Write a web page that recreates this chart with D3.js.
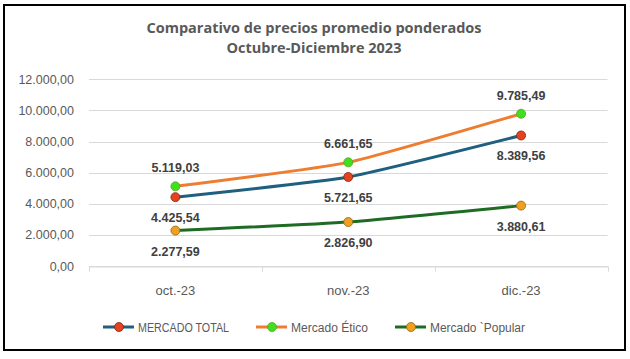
<!DOCTYPE html>
<html lang="es">
<head>
<meta charset="utf-8">
<title>Comparativo de precios promedio ponderados</title>
<script src="https://d3js.org/d3.v7.min.js"></script>
<style>
  body { margin: 0; background: #fff; }
  text { font-family: "Liberation Sans", Arial, sans-serif; }
</style>
</head>
<body>
<script>
// categories and series
var months = ["oct.-23", "nov.-23", "dic.-23"];
var mercadoTotal = [4425.54, 5721.65, 8389.56];
var mercadoEtico = [5119.03, 6661.65, 9785.49];
var mercadoPopular = [2277.59, 2826.90, 3880.61];
var yTicks = [0, 2000, 4000, 6000, 8000, 10000, 12000];
var seriesNames = ["MERCADO TOTAL", "Mercado Ético", "Mercado `Popular"];

var w = 630, h = 359;

var series = [
  { name: seriesNames[0], values: mercadoTotal, line: "#1f5f80", dot: "#e8411f", dotStroke: "#7a2a12", labelPos: "below" },
  { name: seriesNames[1], values: mercadoEtico, line: "#ed7d31", dot: "#3fe01c", dotStroke: "#5aa02a", labelPos: "above" },
  { name: seriesNames[2], values: mercadoPopular, line: "#1e6b24", dot: "#f0a020", dotStroke: "#8a6a10", labelPos: "below" }
];

var fmt = d3.formatLocale({ decimal: ",", thousands: ".", grouping: [3], currency: ["", ""] }).format(",.2f");

var svg = d3.select("body").append("svg")
  .attr("width", w)
  .attr("height", h);

// outer frame
svg.append("rect")
  .attr("x", 4).attr("y", 5)
  .attr("width", 621).attr("height", 345)
  .attr("fill", "#fff")
  .attr("stroke", "#000")
  .attr("stroke-width", 2);

// title
var title = svg.append("text")
  .attr("x", 314)
  .attr("text-anchor", "middle")
  .attr("fill", "#595959")
  .style("font-family", "'Open Sans', sans-serif")
  .style("font-weight", "bold")
  .style("font-size", "14.5px");
title.append("tspan").attr("x", 314).attr("y", 33).text("Comparativo de precios promedio ponderados");
title.append("tspan").attr("x", 314).attr("y", 53).text("Octubre-Diciembre 2023");

var x = d3.scaleBand()
  .domain(months)
  .range([89, 607.5]);

var y = d3.scaleLinear()
  .domain([0, 12000])
  .range([266, 79.3]);

// gridlines
svg.append("g")
  .selectAll("line")
  .data(yTicks)
  .join("line")
  .attr("x1", 89).attr("x2", 607.5)
  .attr("y1", function(d) { return Math.round(y(d)) + 0.5; })
  .attr("y2", function(d) { return Math.round(y(d)) + 0.5; })
  .attr("stroke", "#d9d9d9")
  .attr("stroke-width", 1);

// y axis labels
var yAxis = d3.axisLeft(y).tickValues(yTicks).tickSize(0).tickPadding(0).tickFormat(fmt);
svg.append("g")
  .attr("transform", "translate(74,0)")
  .call(yAxis)
  .call(function(g) { g.select(".domain").remove(); })
  .selectAll("text")
  .attr("fill", "#595959")
  .style("font-size", "12.5px")
  .style("font-family", "'Liberation Sans', Arial, sans-serif");

// x axis
var xAxis = d3.axisBottom(x).tickSize(0).tickPadding(0);
var gx = svg.append("g")
  .attr("transform", "translate(0," + (Math.round(y(0)) + 0.5) + ")");
gx.call(xAxis);
gx.select(".domain").attr("stroke", "#d9d9d9");
gx.selectAll(".tick line").remove();
gx.selectAll(".tick text")
  .attr("dy", 0)
  .attr("y", 28)
  .attr("fill", "#595959")
  .style("font-size", "13px")
  .style("font-family", "'Liberation Sans', Arial, sans-serif");
// boundary tick marks between categories
var bounds = months.map(function(m) { return x(m); }).concat([x.range()[1]]);
gx.selectAll(".bound")
  .data(bounds)
  .join("line")
  .attr("class", "bound")
  .attr("x1", function(d) { return Math.round(d) + 0.5; })
  .attr("x2", function(d) { return Math.round(d) + 0.5; })
  .attr("y1", 0).attr("y2", 5)
  .attr("stroke", "#d9d9d9");

var cx = function(i) { return x(months[i]) + x.bandwidth() / 2; };

// Excel-style smoothing, kept gentle
var line = d3.line()
  .x(function(d, i) { return cx(i); })
  .y(function(d) { return y(d); })
  .curve(d3.curveCardinal.tension(0.55));

var sg = svg.selectAll(".series")
  .data(series)
  .join("g")
  .attr("class", "series");

sg.append("path")
  .attr("d", function(s) { return line(s.values); })
  .attr("fill", "none")
  .attr("stroke", function(s) { return s.line; })
  .attr("stroke-width", 3)
  .attr("stroke-linecap", "round");

sg.selectAll("circle")
  .data(function(s) { return s.values.map(function(v, i) { return { v: v, i: i, s: s }; }); })
  .join("circle")
  .attr("cx", function(d) { return cx(d.i); })
  .attr("cy", function(d) { return y(d.v); })
  .attr("r", 4.5)
  .attr("fill", function(d) { return d.s.dot; })
  .attr("stroke", function(d) { return d.s.dotStroke; })
  .attr("stroke-width", 0.8);

// data labels
sg.selectAll(".lbl")
  .data(function(s) { return s.values.map(function(v, i) { return { v: v, i: i, s: s }; }); })
  .join("text")
  .attr("class", "lbl")
  .attr("x", function(d) { return cx(d.i); })
  .attr("y", function(d) { return y(d.v) + (d.s.labelPos === "above" ? -14 : 25); })
  .attr("text-anchor", "middle")
  .attr("fill", "#404040")
  .style("font-weight", "bold")
  .style("font-size", "12.5px")
  .text(function(d) { return fmt(d.v); });

// legend
var legendX = [103, 256, 395];
var legendLen = [91, 77, 95];
var lg = svg.selectAll(".legend")
  .data(series)
  .join("g")
  .attr("class", "legend")
  .attr("transform", function(s, i) { return "translate(" + legendX[i] + ",327)"; });

lg.append("line")
  .attr("x1", 0).attr("x2", 31)
  .attr("stroke", function(s) { return s.line; })
  .attr("stroke-width", 3);

lg.append("circle")
  .attr("cx", 16).attr("r", 4.5)
  .attr("fill", function(s) { return s.dot; })
  .attr("stroke", function(s) { return s.dotStroke; })
  .attr("stroke-width", 0.8);

lg.append("text")
  .attr("x", 35).attr("y", 4.5)
  .attr("fill", "#595959")
  .style("font-size", "12.5px")
  .attr("textLength", function(s, i) { return legendLen[i]; })
  .attr("lengthAdjust", "spacingAndGlyphs")
  .text(function(s) { return s.name; });
</script>
</body>
</html>
